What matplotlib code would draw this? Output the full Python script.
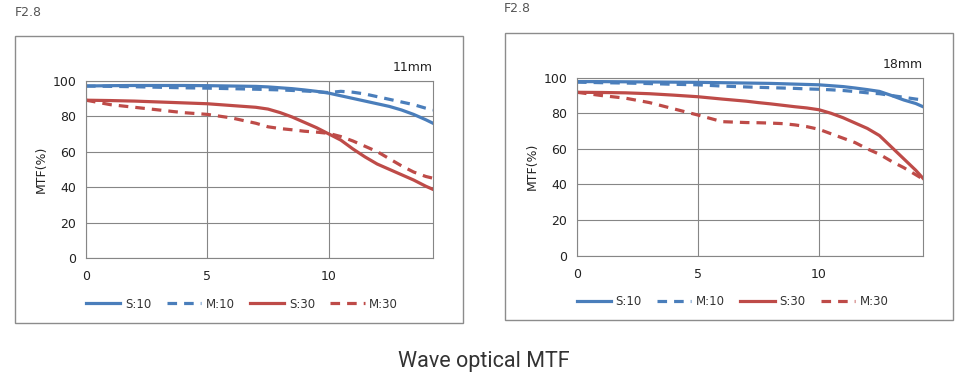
import matplotlib.pyplot as plt
from matplotlib.patches import Rectangle

# image height (field position, mm)
x_pos = [0, 1, 2, 3, 4, 5, 6, 7, 7.5, 8, 8.5, 9, 9.5, 10, 10.5, 11, 11.5, 12, 12.5, 13, 13.5, 14, 14.3]

# 11mm
s10_11 = [97, 97.2, 97.3, 97.3, 97.3, 97.2, 97, 96.8, 96.5, 96, 95.5, 94.8, 94, 93, 91.5, 90, 88.5, 87, 85.5, 83.5, 81, 78, 76]
m10_11 = [97, 96.8, 96.6, 96.3, 96, 95.8, 95.5, 95.2, 95, 94.8, 94.5, 94.2, 93.8, 93.3, 94, 93.5, 92.5, 91, 89.5, 88, 86.5, 84.5, 83.5]
s30_11 = [89, 88.8, 88.5, 88, 87.5, 87, 86, 85, 84, 82, 79.5, 76.5, 73.5, 70, 66.5, 61.5, 57, 53, 50, 47, 44, 40.5, 38.7]
m30_11 = [89, 86.5, 85, 83.5, 82, 81, 79, 76, 74, 73, 72.3, 71.5, 71, 70.3, 68.5, 66, 63, 60, 56, 52, 48.5, 46, 45]

# 18mm
s10_18 = [97.8, 97.8, 97.7, 97.6, 97.5, 97.4, 97.2, 97, 96.9, 96.8, 96.6, 96.4, 96.2, 96, 95.5, 95, 94.2, 93.3, 92.3, 90, 87.5, 85.5, 83.7]
m10_18 = [97.5, 97.2, 97, 96.7, 96.3, 96, 95.3, 94.8, 94.6, 94.4, 94.2, 94, 93.7, 93.5, 93.2, 92.8, 92.2, 91.5, 91, 90, 89, 88, 87.5]
s30_18 = [91.8, 91.7, 91.5, 91, 90.2, 89.3, 88, 86.8, 86, 85.3, 84.5, 83.7, 83, 82, 80, 77.5, 74.5, 71.5, 67.5, 61, 54.5, 48, 43.5]
m30_18 = [91.8, 90, 88.5, 86, 82.5, 79, 75.3, 74.8, 74.7, 74.5, 74.2, 73.5, 72.5, 71, 68.5, 66, 63.5, 60, 57, 53, 49.5, 45.5, 43]

labels = ["S:10", "M:10", "S:30", "M:30"]
blue = "#4a7ebb"
red = "#be4b48"

W, H = 968, 386
fig = plt.figure(figsize=(W / 100, H / 100), dpi=100)


def fx(px):
    return px / W


def fy(py):
    return 1 - py / H


def panel(box, area, series, focal):
    bx0, by0, bx1, by1 = box
    fig.patches.append(Rectangle((fx(bx0), fy(by1)), fx(bx1 - bx0), (by1 - by0) / H,
                                 transform=fig.transFigure, fill=False,
                                 edgecolor="#8c8c8c", lw=1))
    ax0, ay0, ax1, ay1 = area
    ax = fig.add_axes([fx(ax0), fy(ay1), fx(ax1 - ax0), (ay1 - ay0) / H])
    styles = [(blue, "-"), (blue, (0, (3, 2.2))), (red, "-"), (red, (0, (3, 2.2)))]
    for ys, (c, ls), lab in zip(series, styles, labels):
        ax.plot(x_pos, ys, color=c, linestyle=ls, lw=2.3, label=lab)
    ax.set_xlim(0, 14.3)
    ax.set_ylim(0, 100)
    ax.set_xticks([0, 5, 10])
    ax.set_yticks(range(0, 101, 20))
    ax.grid(True, color="#868686", lw=0.8)
    ax.set_axisbelow(True)
    for s in ax.spines.values():
        s.set_color("#868686")
        s.set_linewidth(0.8)
    ax.tick_params(length=0, labelsize=9, colors="#222222", pad=7)
    ax.tick_params(axis="x", pad=9)
    ax.set_ylabel("MTF(%)", fontsize=9, color="#222222", labelpad=3)
    ax.text(1.0, 1.04, focal, transform=ax.transAxes, ha="right", va="bottom",
            fontsize=9, color="#222222")
    ax.legend(loc="center", bbox_to_anchor=(0.45, -0.26), ncol=4, frameon=False,
              fontsize=8.5, handlelength=2.9, handletextpad=0.4, columnspacing=1.3,
              labelcolor="#333333")
    return ax


panel((15, 36, 463, 323), (86, 80.7, 433, 258), [s10_11, m10_11, s30_11, m30_11], "11mm")
panel((505, 33, 953, 320), (577, 77.7, 923, 255.7), [s10_18, m10_18, s30_18, m30_18], "18mm")

fig.text(fx(15), fy(12), "F2.8", fontsize=9, color="#555555", va="center")
fig.text(fx(504), fy(8), "F2.8", fontsize=9, color="#555555", va="center")
fig.text(fx(484), fy(362), "Wave optical MTF", fontsize=15.5, color="#333333",
         ha="center", va="center", family="Roboto")

fig.savefig("out.png", dpi=100, facecolor="white")
